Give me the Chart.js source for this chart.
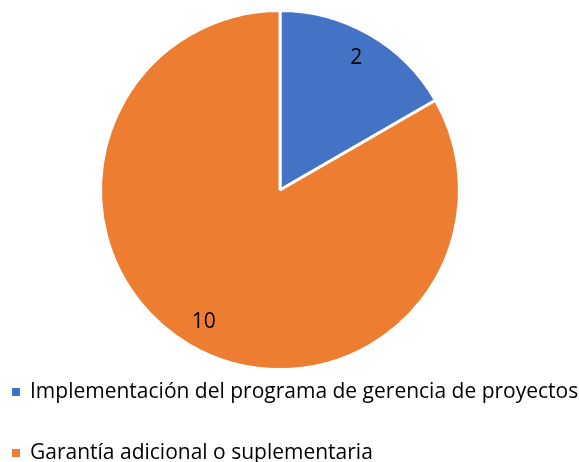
<!DOCTYPE html>
<html>
<head>
<meta charset="utf-8">
<script src="https://cdn.jsdelivr.net/npm/chart.js@4/dist/chart.umd.min.js"></script>
<style>
html,body{margin:0;padding:0;background:#fff;}
#wrap{width:579px;height:462px;position:relative;}
</style>
</head>
<body>
<div id="wrap"><canvas id="c" width="579" height="462"></canvas></div>
<script>
const categories = ["Implementación del programa de gerencia de proyectos", "Garantía adicional o suplementaria"];
const values = [2, 10];
const colors = ["#4472C4", "#ED7D31"];

const FONT = "'Open Sans', sans-serif";

const labelPlugin = {
  id: 'sliceLabels',
  afterDatasetsDraw(chart) {
    const ctx = chart.ctx;
    const meta = chart.getDatasetMeta(0);
    ctx.save();
    ctx.font = "21px " + FONT;
    ctx.fillStyle = "#000";
    ctx.textAlign = "center";
    ctx.textBaseline = "middle";
    meta.data.forEach((arc, i) => {
      const p = arc.getProps(['x','y','startAngle','endAngle','outerRadius'], true);
      const mid = (p.startAngle + p.endAngle) / 2;
      const d = p.outerRadius * 0.85;
      ctx.fillText(String(chart.data.datasets[0].data[i]), p.x + Math.cos(mid) * d, p.y + Math.sin(mid) * d);
    });
    ctx.restore();
  }
};

const legendPlugin = {
  id: 'customLegend',
  afterDraw(chart) {
    const ctx = chart.ctx;
    ctx.save();
    ctx.font = "21px " + FONT;
    ctx.textAlign = "left";
    ctx.textBaseline = "alphabetic";
    chart.data.labels.forEach((lab, i) => {
      const baseline = chart.height - 64 + i * 61;
      ctx.fillStyle = chart.data.datasets[0].backgroundColor[i];
      ctx.fillRect(12, baseline - 10, 8, 8);
      ctx.fillStyle = "#000";
      ctx.fillText(lab, 30, baseline);
    });
    ctx.restore();
  }
};

new Chart(document.getElementById('c'), {
  type: 'pie',
  data: {
    labels: categories,
    datasets: [{
      data: values,
      backgroundColor: colors,
      borderColor: '#ffffff',
      borderWidth: 3
    }]
  },
  options: {
    responsive: false,
    animation: false,
    layout: { padding: { top: 9, bottom: 91, left: 0, right: 19 } },
    plugins: { legend: { display: false }, tooltip: { enabled: false } }
  },
  plugins: [labelPlugin, legendPlugin]
});
</script>
</body>
</html>
